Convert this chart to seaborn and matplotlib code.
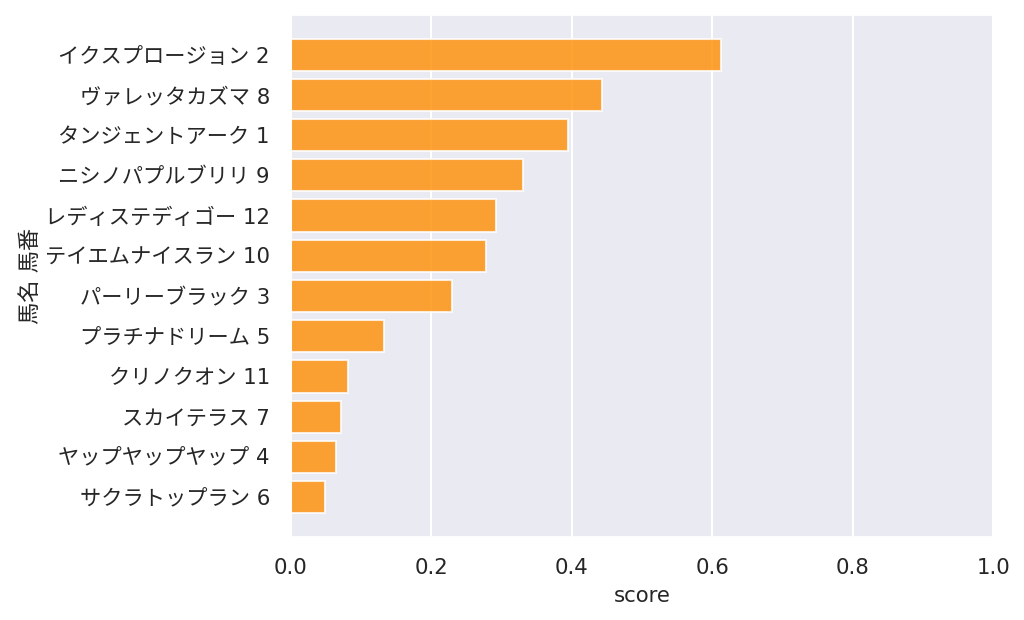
import matplotlib
matplotlib.use("Agg")
import matplotlib.pyplot as plt
import seaborn as sns
import pandas as pd

names = ["イクスプロージョン 2", "ヴァレッタカズマ 8", "タンジェントアーク 1", "ニシノパプルブリリ 9",
         "レディステディゴー 12", "テイエムナイスラン 10", "パーリーブラック 3", "プラチナドリーム 5",
         "クリノクオン 11", "スカイテラス 7", "ヤップヤップヤップ 4", "サクラトップラン 6"]
scores = [0.612, 0.443, 0.395, 0.330, 0.292, 0.278, 0.229, 0.132, 0.081, 0.072, 0.064, 0.049]

sns.set_theme(style="darkgrid", rc={"grid.linewidth": 1.5})
plt.rcParams['font.family'] = ['DejaVu Sans', 'Noto Sans CJK JP']

df = pd.DataFrame({"馬名 馬番": names, "score": scores})

fig, ax = plt.subplots(figsize=(10.24, 6.2), dpi=100)
sns.barplot(data=df, x="score", y="馬名 馬番", color="darkorange", alpha=0.8, saturation=1,
            edgecolor="white", linewidth=1.5, width=0.8, ax=ax)
n = len(names)
pad = 0.05 * (n - 1 + 0.8)
ax.set_ylim(n - 1 + 0.4 + pad, -0.4 - pad)
ax.set_xlim(0, 1.0)
ax.set_xticks([0.0, 0.2, 0.4, 0.6, 0.8, 1.0])
ax.tick_params(axis="y", labelsize=15.3, pad=9, colors="#262626")
ax.tick_params(axis="x", labelsize=15.3, pad=9, colors="#262626")
ax.set_xlabel("score", fontsize=15.3, labelpad=6, color="#262626")
ax.set_ylabel("馬名 馬番", fontsize=16, labelpad=3, color="#262626")
fig.subplots_adjust(left=0.284, right=0.970, top=0.976, bottom=0.134)
fig.savefig("out.png", dpi=100)
